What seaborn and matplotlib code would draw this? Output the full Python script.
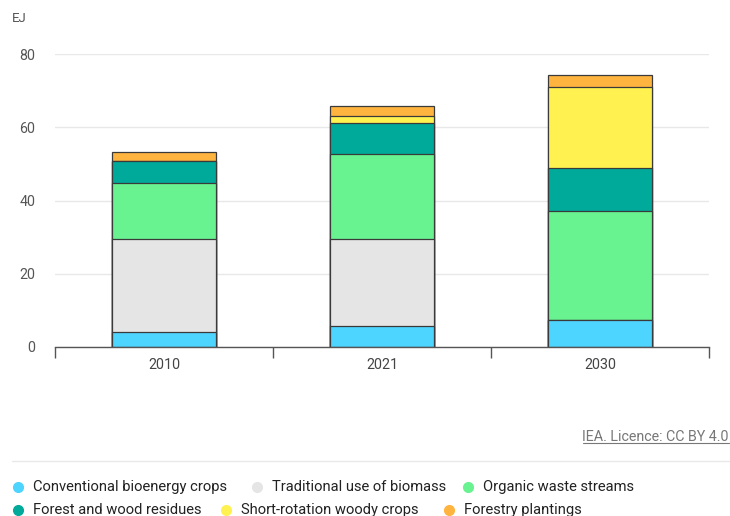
import numpy as np
import pandas as pd
import matplotlib
matplotlib.use("Agg")
import matplotlib.pyplot as plt
from matplotlib.lines import Line2D
import seaborn as sns

years = ["2010", "2021", "2030"]
series = [
    "Conventional bioenergy crops",
    "Traditional use of biomass",
    "Organic waste streams",
    "Forest and wood residues",
    "Short-rotation woody crops",
    "Forestry plantings",
]
conventional = [4.2, 5.6, 7.3]
traditional = [25.4, 24.0, 0.0]
organic_waste = [15.1, 23.1, 29.7]
forest_residues = [6.1, 8.4, 11.9]
short_rotation = [0.0, 1.9, 22.0]
plantings = [2.5, 2.8, 3.4]
colors = ["#4dd4ff", "#e5e5e5", "#69f290", "#00aa9b", "#fff150", "#ffb440"]
y_ticks = [0, 20, 40, 60, 80]

sns.set_theme(style="white")
plt.rcParams["font.family"] = ["Roboto", "DejaVu Sans"]

values = [conventional, traditional, organic_waste, forest_residues, short_rotation, plantings]
df = pd.DataFrame({"year": years})
cum = np.zeros(len(years))
cum_cols = []
for name, vals in zip(series, values):
    cum = cum + np.array(vals)
    df[name] = cum
    cum_cols.append(name)

W, H = 730, 516
fig = plt.figure(figsize=(W / 100, H / 100), dpi=100)
ax = fig.add_axes([55 / W, 1 - 347 / H, (709 - 55) / W, (347 - 54) / H])

# Stack drawn from the top down: each layer is the running total
for name, color in reversed(list(zip(cum_cols, colors))):
    sns.barplot(data=df, x="year", y=name, color=color, width=0.48,
                edgecolor="#3a3a3a", linewidth=0.9, saturation=1, ax=ax, zorder=3)

ax.set_ylim(0, 80)
ax.set_xlim(-0.5, 2.5)
ax.set_yticks(y_ticks)
ax.set_xlabel("")
ax.set_ylabel("")
for s in ["top", "right", "left"]:
    ax.spines[s].set_visible(False)
ax.spines["bottom"].set_color("#555555")
ax.spines["bottom"].set_linewidth(1.0)
ax.spines["bottom"].set_zorder(4)
ax.yaxis.grid(True, color="#e8e8e8", linewidth=1.0)
ax.set_axisbelow(True)
ax.tick_params(axis="y", length=0, pad=14, labelsize=10.3, labelcolor="#555555")
ax.tick_params(axis="x", which="major", length=0, pad=8, labelsize=10.3, labelcolor="#444444")
ax.set_xticks([-0.5, 0.5, 1.5, 2.5], minor=True)
ax.tick_params(axis="x", which="minor", bottom=True, length=8, width=1.0,
               color="#555555", direction="out")

fig.text(12 / W, 1 - 18 / H, "EJ", fontsize=9.5, color="#555555", va="center", ha="left")

# Source line, underlined
lic = fig.text(729 / W, 1 - 437 / H, "IEA. Licence: CC BY 4.0", fontsize=10.3,
               color="#777777", ha="right", va="center")
fig.canvas.draw()
bb = lic.get_window_extent()
fig.add_artist(Line2D([bb.x0 / W, bb.x1 / W], [(bb.y0 + 1) / H, (bb.y0 + 1) / H],
                      transform=fig.transFigure, color="#777777", linewidth=0.8))

fig.add_artist(Line2D([12 / W, 1], [1 - 461 / H, 1 - 461 / H],
                      transform=fig.transFigure, color="#e8e8e8", linewidth=1.0))

# Legend laid out in two flowing rows
legend_pos = [(18, 487), (257, 487), (468, 487), (18, 510), (226, 510), (449, 510)]
for (px, py), name, color in zip(legend_pos, series, colors):
    fig.add_artist(Line2D([px / W], [1 - py / H], marker="o", markersize=7,
                          markerfacecolor=color, markeredgecolor=color,
                          linestyle="none", transform=fig.transFigure))
    fig.text((px + 15) / W, 1 - py / H, name, fontsize=10.6, color="#222222",
             ha="left", va="center")

fig.savefig("out.png", dpi=100)
